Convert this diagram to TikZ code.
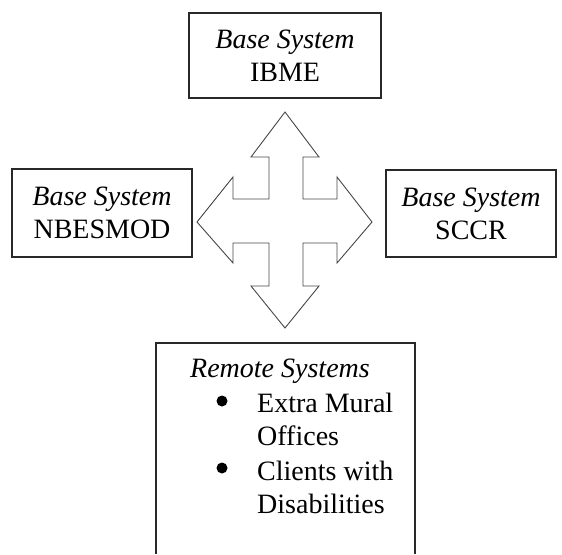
\documentclass[tikz,border=0pt]{standalone}
\usepackage{fontspec}
\setmainfont{Liberation Serif}
\definecolor{boxline}{RGB}{40,40,40}
\definecolor{arrowline}{RGB}{70,70,70}
\tikzset{
  sysbox/.style={draw=boxline, line width=1.6pt, align=center, inner sep=0pt,
    font=\fontsize{28}{33}\selectfont},
  systext/.style={inner sep=0pt, font=\fontsize{28}{33}\selectfont},
  bulletdot/.style={circle, fill=black, inner sep=0pt, minimum size=11pt}
}

\begin{document}
\begin{tikzpicture}[x=1pt,y=-1pt]
\useasboundingbox (0,0) rectangle (562,554);
% base systems
\node[sysbox, minimum width=192pt, minimum height=85pt] (ibme) at (285,55.5) {\textit{Base System}\\IBME};
\node[sysbox, minimum width=180pt, minimum height=88pt] (nbesmod) at (102,213) {\textit{Base System}\\NBESMOD};
\node[sysbox, minimum width=170pt, minimum height=87pt] (sccr) at (471,213.5) {\textit{Base System}\\SCCR};
% four way arrow
\draw [arrowline, line width=0.9pt, line join=miter]
  (285,112)--(319,157)--(303,157)--(303,199)--(337,199)--(337,177)--(372,222)
  --(337,263)--(337,243)--(303,243)--(303,286)--(319,286)--(285,328)
  --(251,286)--(269,286)--(269,243)--(233,243)--(233,263)--(197,222)
  --(233,177)--(233,199)--(269,199)--(269,157)--(251,157)--cycle;
% remote systems
\draw [boxline, line width=1.6pt] (156,554)--(156,343)--(415,343)--(415,554);
\node[systext, anchor=base west] (remote) at (190,377) {\textit{Remote Systems}};
\node[bulletdot] (bulleta) at (222,401) {};
\node[systext, anchor=base west, align=left] (extra) at (257,445) {Extra Mural\\Offices};
\node[bulletdot] (bulletb) at (222,468) {};
\node[systext, anchor=base west, align=left] (clients) at (257,513) {Clients with\\Disabilities};
\end{tikzpicture}
\end{document}
